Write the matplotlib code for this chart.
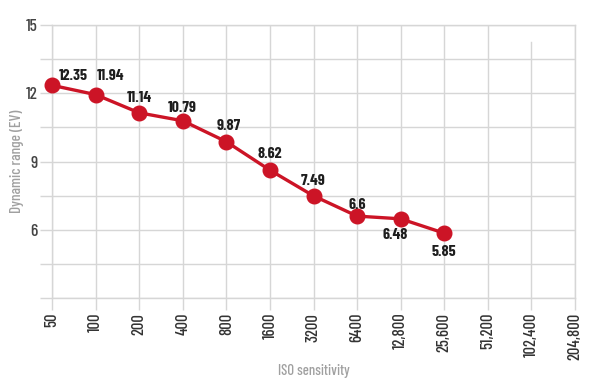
import matplotlib.pyplot as plt

iso_labels = ["50", "100", "200", "400", "800", "1600", "3200", "6400",
              "12,800", "25,600", "51,200", "102,400", "204,800"]
dynamic_range = [12.35, 11.94, 11.14, 10.79, 9.87, 8.62, 7.49, 6.6, 6.48, 5.85]
y_ticks = [3, 4.5, 6, 7.5, 9, 10.5, 12, 13.5, 15]
y_labels = ["", "", "6", "", "9", "", "12", "", "15"]
# label offsets in pixels (dx, dy) from each point
label_offsets = [(21, 9), (15, 19), (0, 15), (0, 13), (2, 16), (0, 16),
                 (0, 15), (0, 11), (-5, -16), (0, -19)]

FONT = ["Barlow Condensed", "DejaVu Sans"]
RED = "#cc1426"
GRID = "#d6d6d6"

fig = plt.figure(figsize=(6, 3.9), dpi=100)
ax = fig.add_axes([52 / 600, 92 / 390, 523 / 600, 273 / 390])

xs = list(range(len(dynamic_range)))
ax.plot(xs, dynamic_range, color=RED, lw=2.4, marker="o", ms=10.5,
        zorder=3, clip_on=False)

for x, v, (dx, dy) in zip(xs, dynamic_range, label_offsets):
    ax.annotate(str(v), (x, v), xytext=(dx, dy), textcoords="offset pixels",
                ha="center", va="center", fontsize=11.5, fontweight="bold",
                family=FONT, color="#1e1e1e", zorder=4)

ax.set_xlim(0, len(iso_labels) - 1)
ax.set_ylim(3, 15)
ax.set_xticks(range(len(iso_labels)))
ax.set_xticklabels(iso_labels, rotation=90, family=FONT, fontsize=12,
                   fontweight="medium", color="#333333")
ax.set_yticks(y_ticks)
ax.set_yticklabels(y_labels, family=FONT, fontsize=12.5, fontweight="medium",
                   color="#444444")
ax.tick_params(axis="both", length=8.6, color=GRID, width=1)
ax.tick_params(axis="x", pad=2)
ax.tick_params(axis="y", pad=2)

for y in y_ticks:
    ax.axhline(y, color=GRID, lw=1, zorder=0)
for i in range(len(iso_labels)):
    top = 0.938 if i == len(iso_labels) - 2 else 1
    ax.axvline(i, ymax=top, color=GRID, lw=1, zorder=0)

for s in ax.spines.values():
    s.set_color(GRID)
    s.set_linewidth(1)

ax.set_xlabel("ISO sensitivity", family=FONT, fontsize=10.5,
              fontweight="medium", color="#a0a0a0", labelpad=3)
ax.set_ylabel("Dynamic range (EV)", family=FONT, fontsize=11,
              fontweight="medium", color="#a0a0a0", labelpad=1)

fig.savefig("out.png", dpi=100)
